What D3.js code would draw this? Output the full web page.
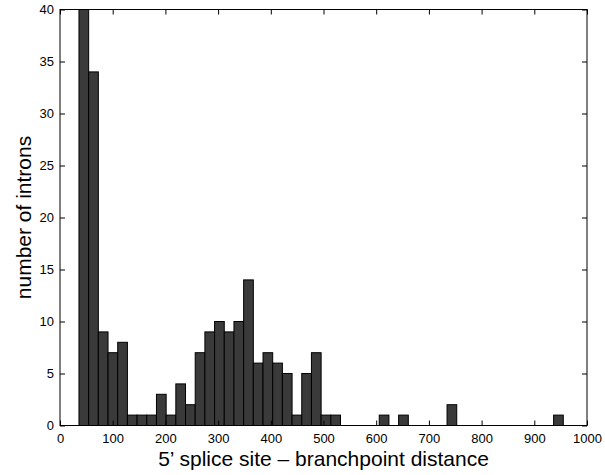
<!DOCTYPE html>
<html>
<head>
<meta charset="utf-8">
<script src="https://cdn.jsdelivr.net/npm/d3@7"></script>
<style>
  html, body { margin: 0; padding: 0; background: #fff; }
  svg { display: block; font-family: "Liberation Sans", Arial, sans-serif; }
</style>
</head>
<body>
<svg id="chart" width="605" height="475"></svg>
<script>
// Histogram of 5' splice site to branchpoint distances: 50 equal bins
const binStart = 36;
const binWidth = 18.38;
const counts = [
  40, 34, 9, 7, 8, 1, 1, 1, 3, 1,
  4, 2, 7, 9, 10, 9, 10, 14, 6, 7,
  6, 5, 1, 5, 7, 1, 1, 0, 0, 0,
  0, 1, 0, 1, 0, 0, 0, 0, 2, 0,
  0, 0, 0, 0, 0, 0, 0, 0, 0, 1
];
const xTicks = [0, 100, 200, 300, 400, 500, 600, 700, 800, 900, 1000];
const yTicks = [0, 5, 10, 15, 20, 25, 30, 35, 40];
const xTitle = "5\u2019 splice site \u2013 branchpoint distance";
const yTitle = "number of introns";

const bins = counts.map((c, i) => ({
  x0: binStart + i * binWidth,
  x1: binStart + (i + 1) * binWidth,
  count: c
}));

const margin = { left: 60, right: 18, top: 9.5, bottom: 49.5 };
const W = 605, H = 475;
const svg = d3.select("#chart");

const x = d3.scaleLinear().domain([0, 1000]).range([margin.left, W - margin.right]);
const y = d3.scaleLinear().domain([0, 40]).range([H - margin.bottom, margin.top]);

svg.append("defs").append("clipPath").attr("id", "plotClip")
  .append("rect")
  .attr("x", x(0)).attr("y", y(40))
  .attr("width", x(1000) - x(0)).attr("height", y(0) - y(40));

// bars
svg.append("g").attr("clip-path", "url(#plotClip)")
  .selectAll("rect").data(bins).join("rect")
  .attr("x", d => x(d.x0))
  .attr("width", d => x(d.x1) - x(d.x0))
  .attr("y", d => y(d.count))
  .attr("height", d => y(0) - y(d.count))
  .attr("fill", "#3a3a3a")
  .attr("stroke", "#000")
  .attr("stroke-width", 1);

// axes with inward ticks on all four sides
const tickLen = 5;
const fmt = d3.format("d");
const styleAxis = g => {
  g.select(".domain").remove();
  g.selectAll("line").attr("stroke", "#000");
  g.selectAll("text").attr("fill", "#000").attr("font-size", "13px");
};

svg.append("g").attr("transform", `translate(0,${y(0)})`)
  .call(d3.axisBottom(x).tickValues(xTicks).tickFormat(fmt).tickSizeInner(-tickLen).tickSizeOuter(0).tickPadding(8))
  .call(styleAxis);
svg.append("g").attr("transform", `translate(0,${y(40)})`)
  .call(d3.axisTop(x).tickValues(xTicks).tickSizeInner(-tickLen).tickSizeOuter(0).tickFormat(""))
  .call(styleAxis);
svg.append("g").attr("transform", `translate(${x(0)},0)`)
  .call(d3.axisLeft(y).tickValues(yTicks).tickFormat(fmt).tickSizeInner(-tickLen).tickSizeOuter(0).tickPadding(6))
  .call(styleAxis);
svg.append("g").attr("transform", `translate(${x(1000)},0)`)
  .call(d3.axisRight(y).tickValues(yTicks).tickSizeInner(-tickLen).tickSizeOuter(0).tickFormat(""))
  .call(styleAxis);

// frame
svg.append("rect")
  .attr("x", x(0)).attr("y", y(40))
  .attr("width", x(1000) - x(0)).attr("height", y(0) - y(40))
  .attr("fill", "none").attr("stroke", "#000").attr("stroke-width", 1);

// titles
svg.append("text")
  .attr("x", (x(0) + x(1000)) / 2).attr("y", 466)
  .attr("text-anchor", "middle").attr("font-size", "21px")
  .text(xTitle);
svg.append("text")
  .attr("transform", `translate(31,${(y(0) + y(40)) / 2}) rotate(-90)`)
  .attr("text-anchor", "middle").attr("font-size", "21px")
  .text(yTitle);
</script>
</body>
</html>
